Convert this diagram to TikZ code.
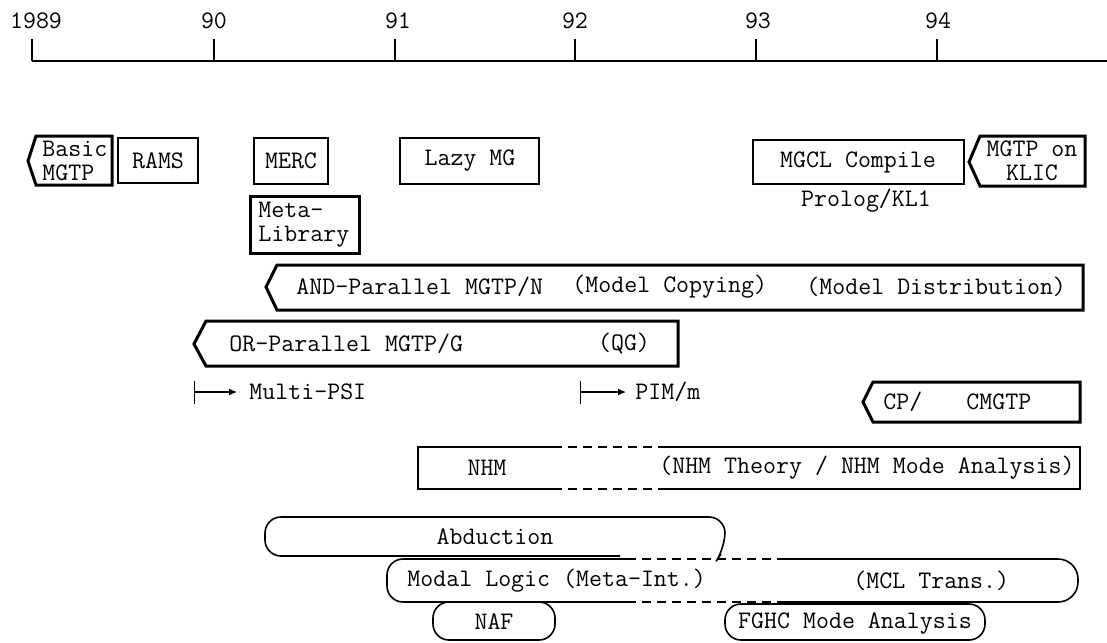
\documentclass[tikz,border=0pt]{standalone}
\usepackage{fontspec}
\usetikzlibrary{arrows.meta}
\begin{document}
\begin{tikzpicture}[x=0.5pt,y=-0.5pt,
  axisline/.style={draw=black,line width=0.8pt},
  thinbox/.style={draw=black,line width=0.75pt},
  thickbox/.style={draw=black,line width=1.5pt,line join=miter},
  roundbox/.style={draw=black,line width=0.8pt,rounded corners=8pt},
  gapline/.style={draw=black,line width=0.75pt,dash pattern=on 4.5pt off 3pt},
  lbl/.style={inner sep=0pt,font=\ttfamily\fontsize{12.6}{12}\selectfont},
  launch/.style={line width=0.6pt,arrows={Bar[width=11.5pt]-Latex[length=4pt,width=3.5pt]}}
]
\useasboundingbox (0,0) rectangle (1107,642);

% ---- time axis ----
\coordinate (t89) at (32,61);
\coordinate (t90) at (214,61);
\coordinate (t91) at (395,61);
\coordinate (t92) at (575,61);
\coordinate (t93) at (756,61);
\coordinate (t94) at (937,61);
\coordinate (tend) at (1107,61);
\draw[axisline] (t89) -- (tend);
\foreach \t in {t89,t90,t91,t92,t93,t94}
  \draw[axisline] (\t) -- ++(0,-22);
\node[lbl] (y89) at (36,21) {1989};
\node[lbl] (y90) at (214,21) {90};
\node[lbl] (y91) at (398,21) {91};
\node[lbl] (y92) at (575,21) {92};
\node[lbl] (y93) at (758,21) {93};
\node[lbl] (y94) at (938,21) {94};

% ---- first row ----
\draw[thickbox] (28,161) -- (36,136) -- (112,136) -- (112,185) -- (36,185) -- cycle;
\node[lbl,anchor=west,align=left] (basic) at (42,161) {Basic\\MGTP};

\draw[thinbox] (118,138) rectangle (198,183);
\node[lbl] (rams) at (158,161) {RAMS};

\draw[thinbox] (254,138) rectangle (328,184);
\node[lbl] (merc) at (291,161) {MERC};

\draw[thickbox] (250,196) rectangle (359,253);
\node[lbl,anchor=west,align=left] (metalib) at (258,225) {Meta-\\Library};

\draw[thinbox] (400,138) rectangle (539,184);
\node[lbl] (lazy) at (470,161) {Lazy MG};

\draw[thinbox] (753,140) rectangle (964,184);
\node[lbl] (mgcl) at (858,162) {MGCL Compile};
\node[lbl] (prolog) at (866,201) {Prolog/KL1};

\draw[thickbox] (969,162) -- (980,136) -- (1085,136) -- (1085,186) -- (980,186) -- cycle;
\node[lbl,align=center] (klic) at (1032,161) {MGTP on\\KLIC};

% ---- parallel provers ----
\draw[thickbox] (266,287) -- (277,265) -- (1083,265) -- (1083,310) -- (277,310) -- cycle;
\node[lbl,anchor=west] (andpar) at (296,287) {AND-Parallel MGTP/N};
\node[lbl,anchor=west] (copy) at (572,287) {(Model Copying)};
\node[lbl,anchor=west] (distr) at (806,287) {(Model Distribution)};

\draw[thickbox] (194,344) -- (206,321) -- (678,321) -- (678,366) -- (206,366) -- cycle;
\node[lbl,anchor=west] (orpar) at (229,344) {OR-Parallel MGTP/G};
\node[lbl] (qg) at (624,344) {(QG)};

\coordinate (psi0) at (194,392);
\node[lbl,anchor=west] (psi) at (249,392) {Multi-PSI};
\draw[launch,shorten >=6pt] (psi0) -- (psi.west);

\coordinate (pim0) at (580,392);
\node[lbl,anchor=west] (pim) at (635,392) {PIM/m};
\draw[launch,shorten >=4.5pt] (pim0) -- (pim.west);

\draw[thickbox] (863,402) -- (873,382) -- (1080,382) -- (1080,422) -- (873,422) -- cycle;
\node[lbl,anchor=west] (cp) at (883,402) {CP/};
\node[lbl,anchor=west] (cmgtp) at (966,402) {CMGTP};

% ---- NHM ----
\draw[thinbox] (553,447) -- (418,447) -- (418,489) -- (553,489);
\draw[gapline] (553,447) -- (660,447);
\draw[gapline] (553,489) -- (660,489);
\draw[thinbox] (660,447) -- (1080,447) -- (1080,489) -- (660,489);
\node[lbl] (nhm) at (487,468) {NHM};
\node[lbl,anchor=east] (nhmth) at (1075,468) {(NHM Theory / NHM Mode Analysis)};

% ---- logic extensions ----
\draw[roundbox] (620,556) -- (265,556) -- (265,517) -- (725,517) -- (725,548) -- (721,554);
\node[lbl] (abd) at (495,537) {Abduction};

\draw[roundbox] (627,559) -- (387,559) -- (387,602) -- (627,602);
\draw[gapline] (627,559) -- (780,559);
\draw[gapline] (627,602) -- (780,602);
\draw[roundbox,rounded corners=10pt] (780,559) -- (1078,559) -- (1078,602) -- (780,602);
\node[lbl,anchor=west] (modal) at (407,581) {Modal Logic (Meta-Int.)};
\node[lbl,anchor=west] (mcl) at (853,581) {(MCL Trans.)};

\draw[roundbox] (433,602) rectangle (555,640);
\node[lbl] (naf) at (494,622) {NAF};

\draw[roundbox] (725,604) rectangle (985,640);
\node[lbl] (fghc) at (855,623) {FGHC Mode Analysis};
\end{tikzpicture}
\end{document}
